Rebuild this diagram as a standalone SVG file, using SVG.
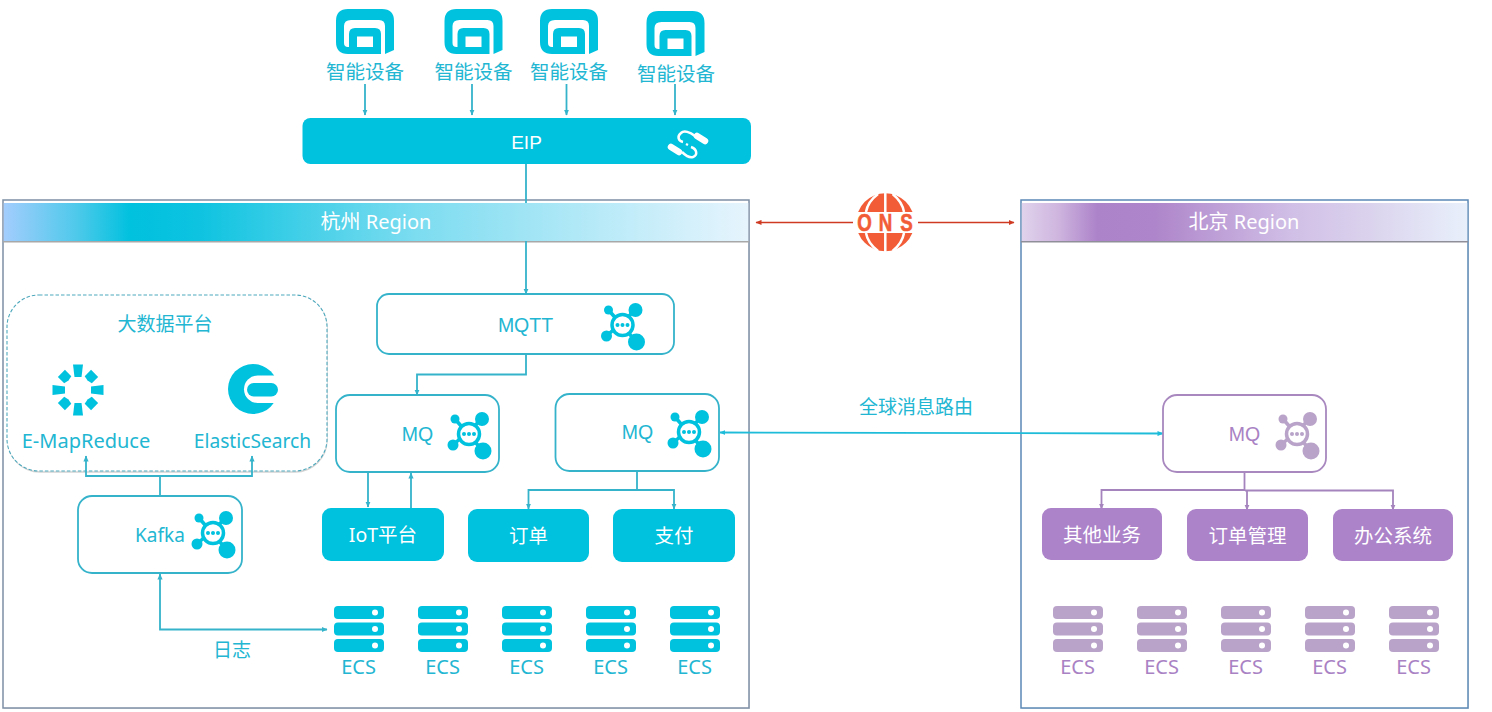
<svg xmlns="http://www.w3.org/2000/svg" width="1492" height="712" viewBox="0 0 1492 712">
<style>
text{font-family:"Noto Sans","Noto Sans CJK SC","Liberation Sans",sans-serif;text-anchor:middle}
.c{fill:#22b6d2}.p{fill:#a982c4}.w{fill:#fff}
.h{font-family:"Liberation Sans","Noto Sans CJK SC",sans-serif}
.t19{font-size:19px}.t195{font-size:19.500px}.t20{font-size:20px}
.box{fill:#fff;stroke:#35b3cb;stroke-width:1.800}
.boxp{fill:#fff;stroke:#a888bf;stroke-width:1.800}
.fc{fill:#00c1de}.fp{fill:#ac82c9}
.l{fill:none;stroke:#35b3cb;stroke-width:1.800}
.lp{fill:none;stroke:#a583bd;stroke-width:1.800}
.lc{fill:none;stroke:#1fbcd9;stroke-width:1.800}
.lr{fill:none;stroke:#cf3a22;stroke-width:1.400}
.frame{fill:#fff;stroke-width:1.500}
</style>
<defs>
<marker id="a" markerWidth="7" markerHeight="6" refX="5.500" refY="3" orient="auto-start-reverse" markerUnits="userSpaceOnUse"><path d="M0,0.400L6,3L0,5.600Z" fill="#35b3cb"/></marker>
<marker id="ap" markerWidth="7" markerHeight="6" refX="5.500" refY="3" orient="auto-start-reverse" markerUnits="userSpaceOnUse"><path d="M0,0.400L6,3L0,5.600Z" fill="#a583bd"/></marker>
<marker id="ac" markerWidth="7" markerHeight="6" refX="5.500" refY="3" orient="auto-start-reverse" markerUnits="userSpaceOnUse"><path d="M0,0.400L6,3L0,5.600Z" fill="#1fbcd9"/></marker>
<marker id="ar" markerWidth="7" markerHeight="6" refX="5.500" refY="3" orient="auto-start-reverse" markerUnits="userSpaceOnUse"><path d="M0,0.400L6,3L0,5.600Z" fill="#cf3a22"/></marker>
<linearGradient id="gh"><stop offset="0" stop-color="#a3cdfd"/><stop offset=".1" stop-color="#4cc9ea"/><stop offset=".17" stop-color="#00c1de"/><stop offset=".26" stop-color="#0dc3e0"/><stop offset=".55" stop-color="#7bdcf0"/><stop offset=".8" stop-color="#b8eaf8"/><stop offset="1" stop-color="#e6f4fd"/></linearGradient>
<linearGradient id="gb"><stop offset="0" stop-color="#e0d2ec"/><stop offset=".08" stop-color="#cfb6df"/><stop offset=".17" stop-color="#ac82c9"/><stop offset=".3" stop-color="#ae85ca"/><stop offset=".6" stop-color="#d0bee6"/><stop offset=".8" stop-color="#dcd5ee"/><stop offset="1" stop-color="#e8f0fb"/></linearGradient>
<g id="device" fill="#00c1de">
<path d="M12,0H46Q58,0 58,12V41L49,45V17Q49,11 43,11H15Q8,11 8,17V34Q8,38 12,38H14V45H12Q0,45 0,33V12Q0,0 12,0Z"/>
<path fill-rule="evenodd" d="M13,25Q13,19 19,19H39Q45,19 45,25V45H13ZM21,27.500V38H37V27.500Z"/>
</g>
<g id="hub" fill="currentColor" stroke="currentColor">
<path d="M-14,-15L14,17M13,-15L-16,11" stroke-width="3.500" fill="none"/>
<circle cx="13" cy="-15" r="7" stroke="none"/><circle cx="-14" cy="-15" r="4.500" stroke="none"/><circle cx="-16" cy="11" r="5.500" stroke="none"/><circle cx="14" cy="17" r="8.500" stroke="none"/>
<circle r="10.500" fill="#fff" stroke-width="3.500"/>
<circle cx="-5" r="2" stroke="none"/><circle r="2" stroke="none"/><circle cx="5" r="2" stroke="none"/>
</g>
<g id="server" fill="currentColor">
<rect width="50" height="13" rx="4"/><rect y="16.500" width="50" height="13" rx="4"/><rect y="33" width="50" height="13" rx="4"/>
<circle cx="41" cy="6.500" r="3" fill="#fff"/><circle cx="41" cy="23" r="3" fill="#fff"/><circle cx="41" cy="39.500" r="3" fill="#fff"/>
</g>
<path id="seg" d="M-5,-25.500H5L3.500,-13H-3.500Z"/>
<path id="seg2" d="M-5,-23.500L5,-23.500L5,-14.500L0,-13.500L-5,-14.500Z"/>
</defs>

<g id="region-hangzhou">
<rect x="4" y="201" width="746" height="508" fill="#e4e4e4"/>
<rect class="frame" x="3" y="200" width="746" height="508" stroke="#7d8ea5"/>
<rect x="3" y="241" width="746" height="1.500" fill="#a8a8a8"/>
<rect x="3.800" y="203" width="744.400" height="38" fill="url(#gh)"/>
<text class="w t20" x="376" y="229">杭州 Region</text>
</g>
<g id="region-beijing">
<rect x="1022" y="201" width="447" height="508" fill="#e4e4e4"/>
<rect class="frame" x="1021" y="200" width="447" height="508" stroke="#5b88b5"/>
<rect x="1021" y="241" width="447" height="1.500" fill="#8f8f9a"/>
<rect x="1021.800" y="203" width="445.400" height="38" fill="url(#gb)"/>
<text class="w t20" x="1244" y="229">北京 Region</text>
</g>

<g id="bigdata">
<rect x="8" y="296" width="319" height="176" rx="32" fill="none" stroke="#d4d4d4" stroke-width="1.500"/>
<rect x="7" y="295" width="320" height="176" rx="32" fill="#fff" stroke="#4fa9bd" stroke-width="1.100" stroke-dasharray="3.500 2"/>
<text class="c t19" x="165" y="331">大数据平台</text>
</g>

<g id="connectors">
<path class="l" marker-end="url(#a)" d="M365,84V115"/>
<path class="l" marker-end="url(#a)" d="M472,84V115"/>
<path class="l" marker-end="url(#a)" d="M566.500,84V115"/>
<path class="l" marker-end="url(#a)" d="M675,84V115"/>
<path class="l" d="M526,164V203"/>
<path class="l" marker-end="url(#a)" d="M526,241V294"/>
<path class="l" marker-end="url(#a)" d="M526,354V374.500H417V395"/>
<path class="l" marker-end="url(#a)" d="M368,472V507"/>
<path class="l" marker-end="url(#a)" d="M411,508V473"/>
<path class="l" marker-end="url(#a)" d="M637,471V490H528.500V509"/>
<path class="l" marker-end="url(#a)" d="M637,490H674V509"/>
<path class="l" marker-end="url(#a)" d="M160,496V476H86V456"/>
<path class="l" marker-end="url(#a)" d="M160,476H252V456"/>
<path class="l" marker-start="url(#a)" marker-end="url(#a)" d="M160,574V629.500H327"/>
<path class="lc" marker-start="url(#ac)" marker-end="url(#ac)" d="M720,432.500L1163,433.500"/>
<path class="lr" marker-start="url(#ar)" d="M756,222.500H853"/>
<path class="lr" marker-end="url(#ar)" d="M917,222.500H1014"/>
<path class="lp" d="M1244.500,472V490"/>
<path class="lp" marker-end="url(#ap)" d="M1245,490H1101.500V509"/>
<path class="lp" marker-end="url(#ap)" d="M1247,490V510"/>
<path class="lp" marker-end="url(#ap)" d="M1245,490.500H1393V510"/>
</g>

<g id="device-1"><use href="#device" x="336" y="9"/><text class="c t195" x="365" y="79">智能设备</text></g>
<g id="device-2"><use href="#device" x="444.500" y="9"/><text class="c t195" x="473.500" y="79">智能设备</text></g>
<g id="device-3"><use href="#device" x="540" y="9"/><text class="c t195" x="569" y="79">智能设备</text></g>
<g id="device-4"><use href="#device" x="646.500" y="11"/><text class="c t195" x="676" y="81">智能设备</text></g>

<g id="eip">
<rect class="fc" x="302.500" y="118" width="448.500" height="46" rx="8"/>
<text class="w h t19" x="526.500" y="148.500">EIP</text>
<path d="M695,136C690,132 684,130 681,133C677,136 678,141 683,142M686,144L688,145M691,147C697,149 698,155 693,157C690,158 686,156 682,152" fill="none" stroke="#fff" stroke-width="2.500"/>
<path d="M697,136L705,141M671,147L679,152" stroke="#fff" stroke-width="6.500" stroke-linecap="round" fill="none"/>
</g>

<g id="ons">
<circle cx="885.300" cy="222.300" r="29" fill="#f25c36"/>
<rect x="853" y="212" width="65" height="21" fill="#fff"/>
<path d="M885.300,193V212M885.300,233V252M878,194C870,200 867,206 866,212M892.600,194C900,200 903,206 904,212M878,251C870,245 867,239 866,233M892.600,251C900,245 903,239 904,233" stroke="#fff" stroke-width="2.500" fill="none"/>
<text transform="translate(885.500 231) scale(.78 1)" x="-27 0 27" font-size="24" font-weight="700" fill="#f25c36" stroke="#f25c36" stroke-width=".6" style="font-family:'Liberation Sans',sans-serif">ONS</text>
</g>

<g id="emr">
<g class="fc" transform="translate(78 390)">
<use href="#seg"/><use href="#seg" transform="rotate(90)"/><use href="#seg" transform="rotate(180)"/><use href="#seg" transform="rotate(270)"/>
<use href="#seg2" transform="rotate(45)"/><use href="#seg2" transform="rotate(135)"/><use href="#seg2" transform="rotate(225)"/><use href="#seg2" transform="rotate(315)"/>
</g>
<text class="c t20" x="86" y="447.500">E-MapReduce</text>
</g>
<g id="es">
<circle class="fc" cx="253" cy="389" r="25"/>
<rect class="w" x="244" y="375.500" width="47" height="27.500" rx="13.700"/>
<rect class="fc" x="247" y="383" width="31" height="13.500" rx="6.700"/>
<text class="c" font-size="19.200" x="252.500" y="447.500">ElasticSearch</text>
</g>

<g id="kafka">
<rect class="box" x="78" y="496" width="164" height="77" rx="14"/>
<text class="c t19" x="160" y="541.500">Kafka</text>
<use href="#hub" x="213" y="533" style="color:#00c1de"/>
</g>
<g id="mqtt">
<rect class="box" x="377" y="294" width="297" height="60" rx="12"/>
<text class="c h t195" x="525.500" y="331.500">MQTT</text>
<use href="#hub" x="622.500" y="325" style="color:#00c1de"/>
</g>
<g id="mq-1">
<rect class="box" x="336" y="395" width="163" height="77" rx="14"/>
<text class="c h t195" x="417.500" y="441">MQ</text>
<use href="#hub" x="469" y="434" style="color:#00c1de"/>
</g>
<g id="mq-2">
<rect class="box" x="555.500" y="394" width="163.500" height="77" rx="14"/>
<text class="c h t195" x="637.500" y="439">MQ</text>
<use href="#hub" x="689" y="432" style="color:#00c1de"/>
</g>
<g id="mq-3">
<rect class="boxp" x="1163" y="395" width="163" height="77" rx="14"/>
<text class="p h t195" x="1244.500" y="441">MQ</text>
<use href="#hub" x="1297" y="434" style="color:#b9a3c9"/>
</g>

<g id="iot"><rect class="fc" x="322" y="508" width="122" height="53" rx="9"/><text class="w t195" x="383" y="542">IoT平台</text></g>
<g id="order"><rect class="fc" x="468" y="509" width="121" height="53" rx="9"/><text class="w t195" x="528.500" y="543">订单</text></g>
<g id="pay"><rect class="fc" x="613" y="509" width="122" height="53" rx="9"/><text class="w t195" x="674" y="543">支付</text></g>
<g id="other"><rect class="fp" x="1042" y="508" width="120" height="52" rx="9"/><text class="w t195" x="1102" y="542">其他业务</text></g>
<g id="ordermgr"><rect class="fp" x="1187" y="509" width="121" height="52" rx="9"/><text class="w t195" x="1247.500" y="543">订单管理</text></g>
<g id="office"><rect class="fp" x="1333" y="509" width="120" height="52" rx="9"/><text class="w t195" x="1393" y="543">办公系统</text></g>

<g id="ecs-1"><use href="#server" x="334" y="606" style="color:#00c1de"/><text class="c t20" x="358.500" y="674">ECS</text></g>
<g id="ecs-2"><use href="#server" x="418" y="606" style="color:#00c1de"/><text class="c t20" x="442.500" y="674">ECS</text></g>
<g id="ecs-3"><use href="#server" x="502" y="606" style="color:#00c1de"/><text class="c t20" x="526.500" y="674">ECS</text></g>
<g id="ecs-4"><use href="#server" x="586" y="606" style="color:#00c1de"/><text class="c t20" x="610.500" y="674">ECS</text></g>
<g id="ecs-5"><use href="#server" x="670" y="606" style="color:#00c1de"/><text class="c t20" x="694.500" y="674">ECS</text></g>
<g id="ecs-6"><use href="#server" x="1053" y="606" style="color:#b9a3c9"/><text class="p t20" x="1077.500" y="674">ECS</text></g>
<g id="ecs-7"><use href="#server" x="1137" y="606" style="color:#b9a3c9"/><text class="p t20" x="1161.500" y="674">ECS</text></g>
<g id="ecs-8"><use href="#server" x="1221" y="606" style="color:#b9a3c9"/><text class="p t20" x="1245.500" y="674">ECS</text></g>
<g id="ecs-9"><use href="#server" x="1305" y="606" style="color:#b9a3c9"/><text class="p t20" x="1329.500" y="674">ECS</text></g>
<g id="ecs-10"><use href="#server" x="1389" y="606" style="color:#b9a3c9"/><text class="p t20" x="1413.500" y="674">ECS</text></g>

<text class="c t19" x="232" y="657">日志</text>
<text class="c t19" x="916" y="414">全球消息路由</text>
</svg>
